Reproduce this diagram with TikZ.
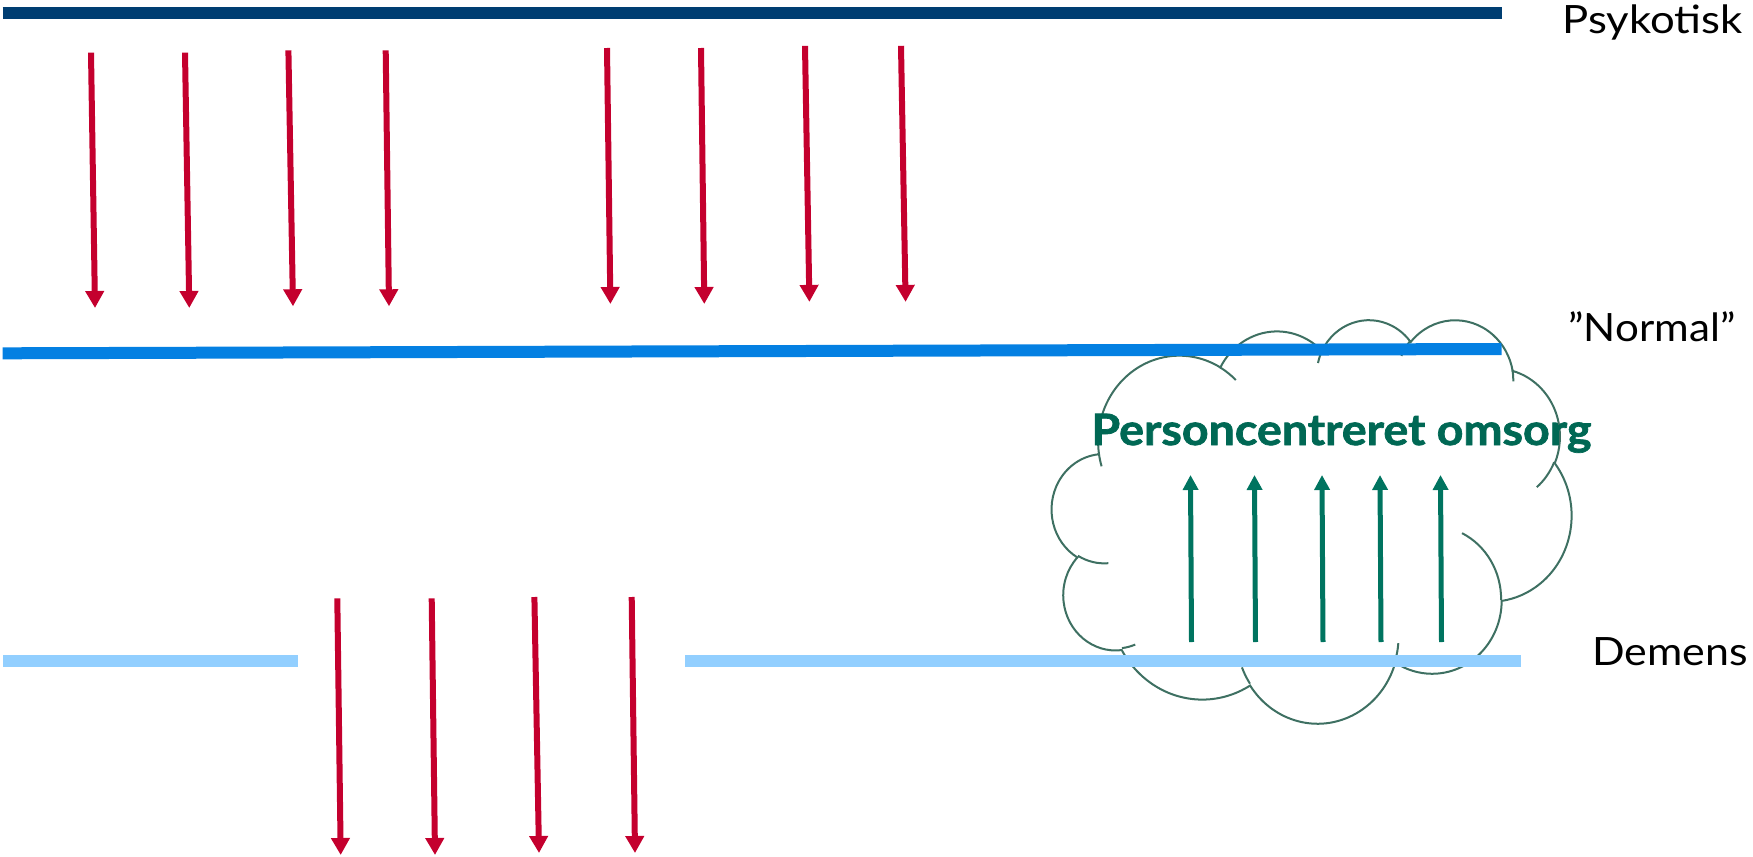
\documentclass[tikz,border=0pt]{standalone}
\usepackage{fontspec}
\setmainfont{Lato}
\newfontfamily\pcfont{Lato}[BoldFeatures={FakeBold=1.6}]
\usepackage{graphicx}
\usetikzlibrary{arrows.meta}
\definecolor{navyline}{RGB}{0,62,114}
\definecolor{midblue}{RGB}{4,128,226}
\definecolor{lightblue}{RGB}{146,207,255}
\definecolor{redarrow}{RGB}{196,0,46}
\definecolor{greenarrow}{RGB}{0,116,96}
\definecolor{greentext}{RGB}{0,104,84}
\definecolor{cloudgreen}{RGB}{62,112,98}
% arc of the cloud: #1 name, #2 wR, #3 hR, #4 start angle (deg), #5 swing (deg)
\newcommand\cloudcalc[5]{%
  \pgfmathsetmacro\cctA{atan2((#2)*sin(#4),(#3)*cos(#4))}%
  \pgfmathsetmacro\cctB{atan2((#2)*sin((#4)+(#5)),(#3)*cos((#4)+(#5)))}%
  \pgfmathsetmacro\ccd{\cctB-\cctA}%
  \pgfmathsetmacro\ccd{\ccd<0 ? \ccd+360 : \ccd}%
  \pgfmathsetmacro\ccs{-1*(\cctA)}%
  \pgfmathsetmacro\ccdn{-1*(\ccd)}%
  \pgfmathsetmacro\ccrx{(#2)*0.0060069}%
  \pgfmathsetmacro\ccry{(#3)*0.0046644}%
  \expandafter\xdef\csname #1\endcsname{arc[start angle=\ccs, delta angle=\ccdn, x radius=\ccrx pt, y radius=\ccry pt]}%
}
\begin{document}
\begin{tikzpicture}[x=0.5pt,y=-0.5pt,
  band/.style={line width=6pt, line cap=butt},
  downarrow/.style={draw=redarrow, line width=3pt, -{Triangle[length=8.5pt,width=9pt]}},
  uparrow/.style={draw=greenarrow, line width=2.5pt, -{Triangle[length=7.5pt,width=7.5pt]}},
  cloudline/.style={draw=cloudgreen, line width=1pt},
  levellabel/.style={anchor=base west, inner sep=0pt, font=\fontsize{19.5}{20}\selectfont}]
\useasboundingbox (0,0) rectangle (1753,857);
\clip (0,0) rectangle (1753,857);
% cloud geometry
\cloudcalc{clA}{6753}{9190}{-190.4875}{123.7805}
\cloudcalc{clB}{5333}{7267}{-144.1024}{89.9452}
\cloudcalc{clC}{4365}{5945}{-145.8079}{99.7230}
\cloudcalc{clD}{4857}{6595}{-130.9861}{117.2417}
\cloudcalc{clE}{5333}{7273}{-78.7089}{109.0269}
\cloudcalc{clF}{6775}{9220}{-46.2673}{130.2690}
\cloudcalc{clG}{5785}{7867}{0.6250}{114.0333}
\cloudcalc{clH}{6752}{9215}{22.4516}{115.1726}
\cloudcalc{clI}{7720}{10543}{66.2426}{75.7110}
\cloudcalc{clJ}{4360}{5918}{-274.9421}{146.7356}
\cloudcalc{clK}{4345}{5945}{-246.8285}{152.5189}
\cloudcalc{tkA}{4345}{5945}{86.7420}{26.4295}
\cloudcalc{tkB}{4360}{5918}{73.6105}{11.4475}
\cloudcalc{tkC}{6752}{9215}{137.6242}{14.0811}
\cloudcalc{tkD}{6752}{9215}{6.4533}{15.9984}
\cloudcalc{tkE}{5785}{7867}{-70.2924}{70.9174}
\cloudcalc{tkF}{5333}{7273}{30.3180}{27.7515}
\cloudcalc{tkG}{4857}{6595}{-13.7443}{14.8589}
\cloudcalc{tkH}{4857}{6595}{-149.1815}{18.1954}
\cloudcalc{tkI}{4365}{5945}{-163.4943}{17.6864}
\cloudcalc{tkJ}{6753}{9190}{-66.7070}{12.3194}
\cloudcalc{tkK}{6753}{9190}{157.6544}{11.8582}
\coordinate (cs) at ({1052+3.900*12.0139},{319+14.370*9.3287});
\draw[cloudline] (cs) \clA \clB \clC \clD \clE \clF \clG \clH \clI \clJ \clK -- cycle;
\foreach \nm/\px/\py in {tkA/4.693/26.177, tkB/6.928/34.899, tkC/16.478/39.090,
  tkD/28.827/34.751, tkE/34.129/22.954, tkF/41.798/15.354, tkG/38.324/5.426,
  tkH/29.078/3.952, tkI/22.141/4.720, tkJ/14.000/5.192, tkK/4.127/15.789}{
  \coordinate (\nm) at ({1052+\px*12.0139},{319+\py*9.3287});
  \draw[cloudline] (\nm) \csname\nm\endcsname;
}
% level lines
\coordinate (psykL) at (2.7,13.3);   \coordinate (psykR) at (1501.7,13.3);
\coordinate (normL) at (2.7,353.3);  \coordinate (normR) at (1501.5,349);
\coordinate (demAL) at (3,661);      \coordinate (demAR) at (297.7,661);
\coordinate (demBL) at (685,661);    \coordinate (demBR) at (1520.6,661);
\draw[band, navyline] (psykL) -- (psykR);
\draw[band, midblue] (normL) -- (normR);
\draw[band, lightblue, line width=5.7pt] (demAL) -- (demAR);
\draw[band, lightblue, line width=5.7pt] (demBL) -- (demBR);
% red arrows
\foreach \i/\xa/\ya/\xb/\yb in {1/91/52.7/95/308, 2/185/52.7/189.3/308,
  3/288.4/50.3/293/306.3, 4/385.7/50.3/389/306.3, 5/607/48/610.4/304,
  6/701/48/704.3/304, 7/805/45.8/809.4/301.9, 8/901/45.8/905.6/301.9,
  9/337.3/598.3/340.7/855, 10/431.7/598.3/435/855, 11/534.4/597/539/853,
  12/631.7/597/635/853}{
  \coordinate (r\i s) at (\xa,\ya);
  \coordinate (r\i e) at (\xb,\yb);
  \draw[downarrow] (r\i s) -- (r\i e);
}
% green arrows
\foreach \i/\xa in {1/1190.5, 2/1254.5, 3/1322, 4/1380, 5/1440.5}{
  \coordinate (g\i s) at (\xa+1,642);
  \coordinate (g\i e) at (\xa,475);
  \draw[uparrow] (g\i s) -- (g\i e);
}
% labels
\node[levellabel] (psyk) at (1562,33.3) {\resizebox{90pt}{\height}{Psykotisk}};
\node[levellabel] (norm) at (1568,341.7) {\resizebox{83.5pt}{\height}{”Normal”}};
\node[levellabel] (dem) at (1592,665) {\scalebox{1.1}[1]{Demens}};
\node[anchor=base west, inner sep=0pt, text=greentext,
  font=\pcfont\bfseries\fontsize{21.6}{22}\selectfont] (pc) at (1091,445)
  {\resizebox{250pt}{\height}{Personcentreret omsorg}};
\end{tikzpicture}
\end{document}
